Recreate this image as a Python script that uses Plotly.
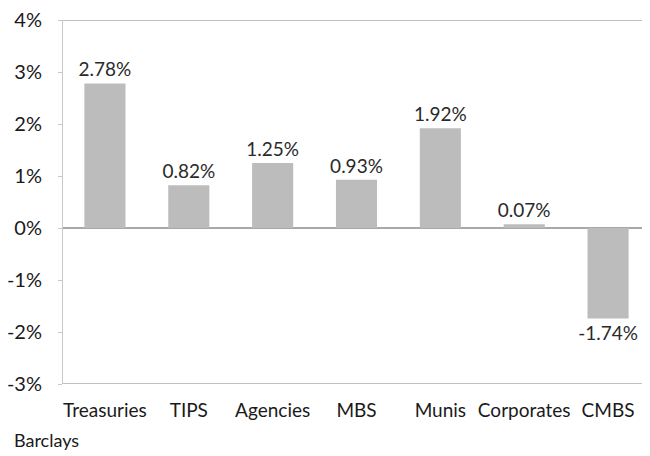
import plotly.graph_objects as go

categories = ["Treasuries", "TIPS", "Agencies", "MBS", "Munis", "Corporates", "CMBS"]
returns = [2.78, 0.82, 1.25, 0.93, 1.92, 0.07, -1.74]
tick_vals = [-3, -2, -1, 0, 1, 2, 3, 4]
tick_text = ["-3%", "-2%", "-1%", "0%", "1%", "2%", "3%", "4%"]
source_note = "Barclays"

FONT = "Lato, Open Sans, sans-serif"

fig = go.Figure(go.Bar(
    x=categories, y=returns,
    marker=dict(color="#bcbcbc", line=dict(width=0)),
    text=[f"{v:.2f}%" for v in returns],
    textposition="outside",
    constraintext="none",
    textfont=dict(family=FONT, size=19, color="#2a2a2a"),
    cliponaxis=False,
))

# page body has an 8px margin; figure is sized to fill the rest of the window
fig.update_layout(
    width=642, height=448,
    margin=dict(l=55, r=0, t=12, b=72),
    paper_bgcolor="white", plot_bgcolor="white",
    bargap=0.51,
    showlegend=False,
    font=dict(family=FONT, color="#1a1a1a"),
    xaxis=dict(
        showgrid=False, showline=False, ticks="",
        tickfont=dict(size=19, color="#1a1a1a"),
        ticklabelstandoff=13, automargin=False,
    ),
    yaxis=dict(
        range=[-3, 4], tickvals=tick_vals, ticktext=tick_text,
        tickfont=dict(size=20, color="#1a1a1a"),
        showgrid=False, zeroline=True, zerolinecolor="#a8a8a8", zerolinewidth=2,
        showline=True, linecolor="#c8c8c8", linewidth=1,
        ticks="outside", ticklen=4, tickcolor="#c8c8c8",
        ticklabelstandoff=12, automargin=False,
        ticklabeloverflow="allow",
    ),
    annotations=[dict(
        text=source_note, xref="paper", yref="paper", x=(4 - 55) / 588, y=-56 / 364,
        xanchor="left", yanchor="middle", showarrow=False,
        font=dict(size=18, color="#1a1a1a"),
    )],
    shapes=[
        dict(type="line", xref="paper", yref="y", x0=0, x1=1, y0=4, y1=4,
             line=dict(color="#c0c0c0", width=2)),
        dict(type="line", xref="paper", yref="y", x0=0, x1=1, y0=-3, y1=-3,
             line=dict(color="#c0c0c0", width=2)),
    ],
)

fig.write_html("out.html")
